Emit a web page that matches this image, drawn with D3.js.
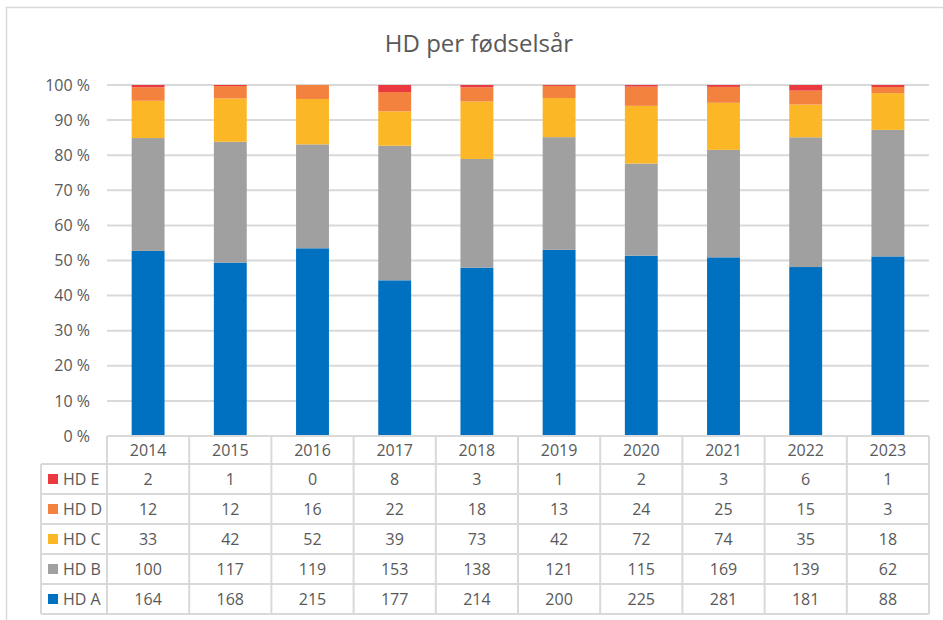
<!DOCTYPE html>
<html>
<head>
<meta charset="utf-8">
<script src="https://cdn.jsdelivr.net/npm/d3@7"></script>
<style>
  body { margin: 0; background: #fff; }
  svg text { font-family: "Open Sans", sans-serif; fill: #595959; }
</style>
</head>
<body>
<div id="chart"></div>
<script>
// data
var YEARS = ['2014', '2015', '2016', '2017', '2018', '2019', '2020', '2021', '2022', '2023'];
var HD_A = [164, 168, 215, 177, 214, 200, 225, 281, 181, 88];
var HD_B = [100, 117, 119, 153, 138, 121, 115, 169, 139, 62];
var HD_C = [33, 42, 52, 39, 73, 42, 72, 74, 35, 18];
var HD_D = [12, 12, 16, 22, 18, 13, 24, 25, 15, 3];
var HD_E = [2, 1, 0, 8, 3, 1, 2, 3, 6, 1];
var SERIES = ['HD A', 'HD B', 'HD C', 'HD D', 'HD E'];
var COLORS = ['#0070c0', '#a0a0a0', '#fbb725', '#f4823f', '#ea3a3f'];
var Y_TICKS = [0, 0.1, 0.2, 0.3, 0.4, 0.5, 0.6, 0.7, 0.8, 0.9, 1];

var WIDTH = 943, HEIGHT = 620;
var PLOT = { left: 107, right: 929, top: 85, bottom: 436 };
var TABLE_LEFT = 41, HEADER_H = 28, ROW_H = 30;
var GRID = '#d9d9d9';

var values = [HD_A, HD_B, HD_C, HD_D, HD_E];
var rows = YEARS.map(function (y, i) {
  var r = { year: y };
  SERIES.forEach(function (s, j) { r[s] = values[j][i]; });
  return r;
});

var svg = d3.select('#chart').append('svg')
  .attr('width', WIDTH)
  .attr('height', HEIGHT);

// outer frame
svg.append('rect')
  .attr('x', 6.5).attr('y', 7.5)
  .attr('width', 950).attr('height', 620)
  .attr('fill', '#fff')
  .attr('stroke', GRID)
  .attr('stroke-width', 1.5);

svg.append('text')
  .attr('x', 479).attr('y', 52)
  .attr('text-anchor', 'middle')
  .style('font-size', '24px')
  .text('HD per fødselsår');

var x = d3.scaleBand().domain(YEARS)
  .range([PLOT.left, PLOT.right])
  .paddingInner(0.6).paddingOuter(0.3);
var y = d3.scaleLinear().domain([0, 1]).range([PLOT.bottom, PLOT.top]);

// gridlines
svg.append('g').selectAll('line')
  .data(Y_TICKS.filter(function (t) { return t > 0; }))
  .join('line')
  .attr('x1', PLOT.left).attr('x2', PLOT.right)
  .attr('y1', function (d) { return y(d); })
  .attr('y2', function (d) { return y(d); })
  .attr('stroke', GRID)
  .attr('stroke-width', 2);

// y labels
svg.append('g').selectAll('text')
  .data(Y_TICKS)
  .join('text')
  .attr('x', 90)
  .attr('y', function (d) { return y(d); })
  .attr('dy', '0.35em')
  .attr('text-anchor', 'end')
  .style('font-size', '16px')
  .text(function (d) { return Math.round(d * 100) + ' %'; });

// stacked 100% bars
var stack = d3.stack().keys(SERIES).offset(d3.stackOffsetExpand);
svg.append('g').selectAll('g')
  .data(stack(rows))
  .join('g')
  .attr('fill', function (d, i) { return COLORS[i]; })
  .selectAll('rect')
  .data(function (d) { return d; })
  .join('rect')
  .attr('x', function (d) { return x(d.data.year); })
  .attr('width', x.bandwidth())
  .attr('y', function (d) { return y(d[1]); })
  .attr('height', function (d) { return y(d[0]) - y(d[1]); });

// data table
var step = x.step();
var tableRight = PLOT.left + step * YEARS.length;
var tableBottom = PLOT.bottom + HEADER_H + ROW_H * SERIES.length;
var table = svg.append('g');

// horizontal lines
var hLines = [{ y: PLOT.bottom, x1: PLOT.left }];
for (var k = 0; k <= SERIES.length; k++) {
  hLines.push({ y: PLOT.bottom + HEADER_H + k * ROW_H, x1: TABLE_LEFT });
}
table.selectAll('line.h')
  .data(hLines)
  .join('line')
  .attr('class', 'h')
  .attr('x1', function (d) { return d.x1; })
  .attr('x2', tableRight)
  .attr('y1', function (d) { return d.y; })
  .attr('y2', function (d) { return d.y; })
  .attr('stroke', GRID).attr('stroke-width', 2);

// vertical lines
var vLines = [{ x: TABLE_LEFT, y1: PLOT.bottom + HEADER_H }];
for (var c = 0; c <= YEARS.length; c++) {
  vLines.push({ x: PLOT.left + c * step, y1: PLOT.bottom });
}
table.selectAll('line.v')
  .data(vLines)
  .join('line')
  .attr('class', 'v')
  .attr('x1', function (d) { return d.x; })
  .attr('x2', function (d) { return d.x; })
  .attr('y1', function (d) { return d.y1; })
  .attr('y2', tableBottom)
  .attr('stroke', GRID).attr('stroke-width', 2);

// header years
table.selectAll('text.year')
  .data(YEARS)
  .join('text')
  .attr('class', 'year')
  .attr('x', function (d) { return x(d) + x.bandwidth() / 2; })
  .attr('y', PLOT.bottom + HEADER_H / 2)
  .attr('dy', '0.35em')
  .attr('text-anchor', 'middle')
  .style('font-size', '16px')
  .text(function (d) { return d; });

// rows, top row is HD E
var order = SERIES.slice().reverse();
var rowG = table.selectAll('g.row')
  .data(order)
  .join('g')
  .attr('class', 'row')
  .attr('transform', function (d, i) {
    return 'translate(0,' + (PLOT.bottom + HEADER_H + i * ROW_H + ROW_H / 2) + ')';
  });

rowG.append('rect')
  .attr('x', 48).attr('y', -5)
  .attr('width', 10).attr('height', 10)
  .attr('fill', function (d) { return COLORS[SERIES.indexOf(d)]; });

rowG.append('text')
  .attr('x', 63)
  .attr('dy', '0.35em')
  .style('font-size', '16px')
  .text(function (d) { return d; });

rowG.selectAll('text.val')
  .data(function (s) {
    return YEARS.map(function (yr, i) { return { year: yr, v: values[SERIES.indexOf(s)][i] }; });
  })
  .join('text')
  .attr('class', 'val')
  .attr('x', function (d) { return x(d.year) + x.bandwidth() / 2; })
  .attr('dy', '0.35em')
  .attr('text-anchor', 'middle')
  .style('font-size', '16px')
  .text(function (d) { return d.v; });
</script>
</body>
</html>
